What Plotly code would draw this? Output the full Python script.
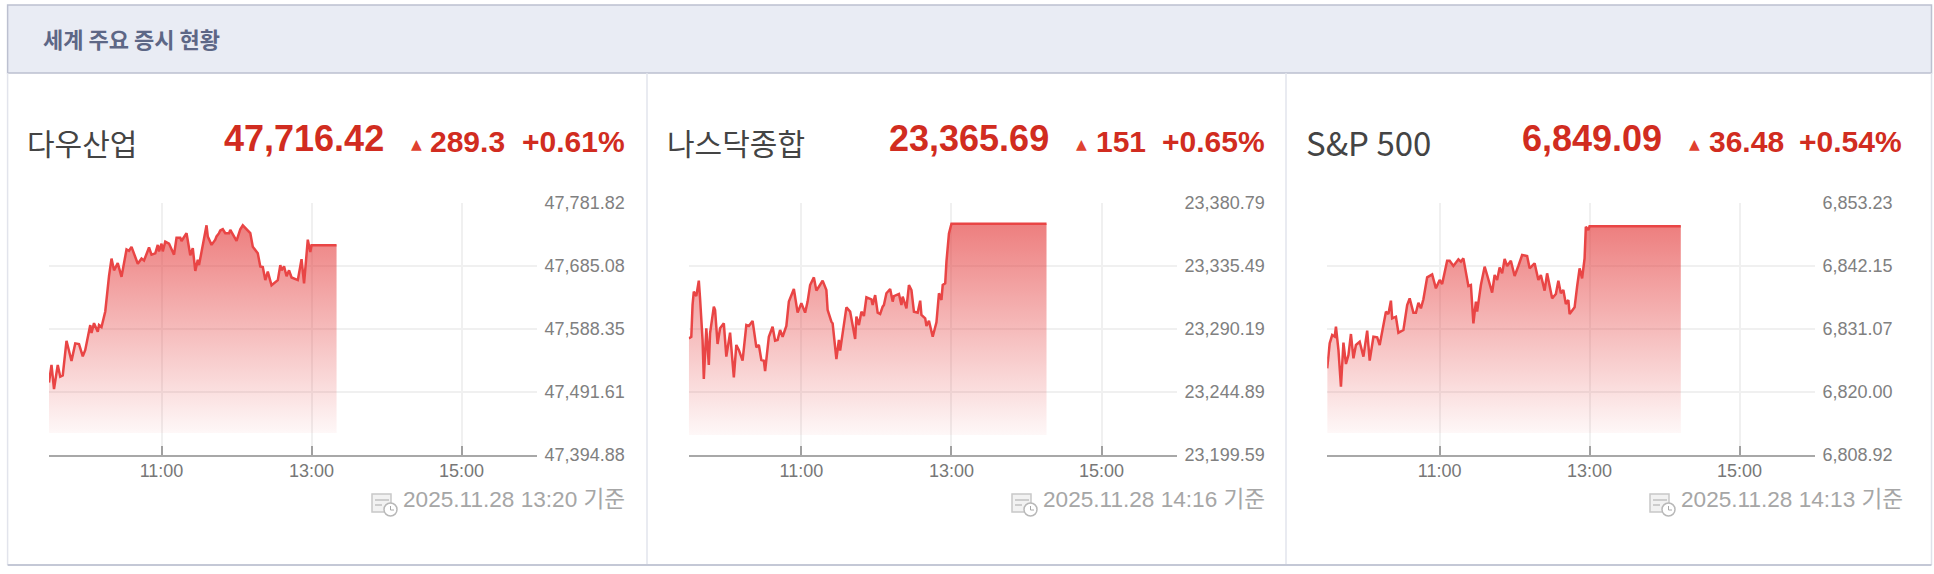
import pandas as pd
import plotly.graph_objects as go

W, H = 1934, 574

# chart values
dow_times = ["09:30","09:32","09:34","09:37","09:39","09:41","09:44","09:48","09:51","09:54","09:57","09:59",
             "10:03","10:04","10:06","10:09","10:10","10:12","10:15","10:17","10:18","10:20","10:22","10:25","10:28",
             "10:32","10:34","10:36","10:39","10:41","10:44","10:46","10:50","10:52","10:55","10:57","10:58",
             "11:00","11:01","11:03","11:06","11:10","11:12","11:15","11:16","11:20","11:23","11:25","11:27","11:29",
             "11:30","11:33","11:36","11:37","11:40","11:43","11:44","11:46","11:47","11:49","11:51","11:54","11:55",
             "12:00","12:03","12:05","12:11","12:13","12:16","12:17","12:19","12:21","12:23","12:25","12:28",
             "12:33","12:35","12:36","12:38","12:40","12:42","12:44","12:49","12:52","12:54","12:57","12:59",
             "13:00","13:20"]
dow_values = [47506,47533,47496,47533,47515,47517,47570,47539,47566,47565,47546,47556,
              47594,47582,47597,47584,47594,47591,47615,47655,47669,47696,47678,47689,47668,
              47710,47708,47714,47699,47688,47696,47693,47713,47702,47704,47717,47707,
              47719,47707,47722,47719,47702,47728,47728,47723,47735,47701,47712,47677,47694,
              47686,47719,47747,47730,47717,47725,47730,47735,47739,47741,47735,47735,47740,
              47723,47741,47747,47735,47714,47707,47704,47684,47683,47663,47676,47655,
              47663,47686,47678,47684,47669,47678,47667,47663,47695,47658,47725,47706,
              47716.42,47716.42]

nasdaq_times = ["09:30","09:32","09:33","09:34","09:36","09:38","09:39","09:41","09:42","09:44","09:46","09:47",
                "09:50","09:51","09:53","09:55","09:58","10:00","10:03","10:06","10:08","10:10","10:13","10:16",
                "10:18","10:21","10:23","10:24","10:26","10:28","10:30","10:31","10:34","10:37","10:39","10:41",
                "10:43","10:45","10:48","10:50","10:54","10:57","11:00","11:03","11:05","11:07","11:10","11:12",
                "11:14","11:17","11:20","11:21","11:24","11:25","11:28","11:30","11:31","11:34","11:36","11:39",
                "11:43","11:44","11:46","11:48","11:50","11:52","11:56","11:57","11:59","12:01","12:03","12:05",
                "12:06","12:08","12:11","12:13","12:14","12:18","12:20","12:21","12:24","12:26","12:28","12:30",
                "12:33","12:35","12:36","12:39","12:40","12:42","12:45","12:48","12:50","12:52","12:53","12:55",
                "12:56","12:58","13:00","14:16"]
nasdaq_values = [23283.3,23284.5,23307.3,23316.9,23313.7,23324.8,23312.1,23282.2,23254.2,23290.5,23264.2,23286.9,
                 23306.1,23303.7,23279.3,23290.5,23294.1,23270.2,23287.4,23255.3,23278.6,23275.0,23267.3,23292.9,
                 23292.2,23295.8,23283.3,23276.9,23278.6,23267.8,23267.3,23259.9,23284.5,23291.7,23281.7,23282.2,
                 23289.3,23284.5,23292.2,23309.7,23318.8,23301.8,23308.5,23301.8,23309.7,23321.6,23327.1,23317.6,
                 23320.4,23324.8,23318.0,23303.7,23295.3,23294.1,23268.5,23282.2,23274.5,23294.1,23305.6,23302.5,
                 23282.9,23298.9,23292.9,23302.5,23299.4,23312.8,23311.3,23307.3,23314.4,23301.8,23300.8,23306.1,
                 23307.3,23315.7,23318.8,23309.7,23313.7,23315.2,23307.3,23313.3,23304.9,23321.6,23318.0,23302.5,
                 23301.8,23310.4,23300.1,23297.7,23292.2,23296.0,23284.5,23294.8,23315.7,23310.9,23321.6,23322.8,
                 23338.4,23358.7,23365.69,23365.69]

sp_times = ["09:30","09:32","09:34","09:36","09:37","09:39","09:41","09:43","09:45","09:47","09:49","09:51",
            "09:53","09:56","09:59","10:02","10:04","10:07","10:10","10:12","10:17","10:19","10:21","10:22",
            "10:25","10:27","10:31","10:34","10:36","10:39","10:41","10:43","10:45","10:47","10:50","10:54",
            "10:57","11:00","11:02","11:06","11:08","11:11","11:15","11:17","11:19","11:23","11:25","11:27",
            "11:29","11:30","11:33","11:36","11:38","11:42","11:44","11:46","11:48","11:50","11:52","11:54",
            "11:57","12:00","12:03","12:06","12:10","12:12","12:16","12:19","12:21","12:24","12:26","12:30",
            "12:33","12:35","12:37","12:39","12:41","12:43","12:44","12:48","12:50","12:52","12:54","12:56",
            "12:57","12:59","13:00","14:13"]
sp_values = [6824.13,6828.52,6829.98,6829.69,6831.45,6827.35,6820.91,6828.64,6824.89,6826.47,6830.16,6825.89,
             6828.23,6828.81,6826.18,6830.74,6825.48,6829.69,6829.57,6828.23,6834.08,6833.67,6836.01,6832.91,
             6833.20,6830.39,6830.86,6835.25,6836.42,6833.90,6833.90,6835.66,6834.67,6836.25,6840.11,6840.63,
             6838.18,6839.64,6838.94,6843.03,6843.03,6842.10,6843.27,6842.86,6843.44,6838.59,6838.76,6832.03,
             6835.84,6834.08,6838.76,6841.98,6840.52,6837.42,6840.52,6839.64,6841.86,6840.81,6843.33,6842.10,
             6843.03,6840.34,6842.10,6844.03,6843.85,6841.69,6842.57,6839.64,6840.52,6837.77,6840.81,6836.42,
             6837.18,6839.52,6837.30,6837.88,6835.43,6836.13,6833.67,6834.84,6838.47,6841.69,6839.93,6843.44,
             6849.00,6848.42,6849.09,6849.09]

dow_ticks = [47394.88,47491.61,47588.35,47685.08,47781.82]
nasdaq_ticks = [23199.59,23244.89,23290.19,23335.49,23380.79]
sp_ticks = [6808.92,6820.00,6831.07,6842.15,6853.23]
fill_floors = [47428.6,23214.0,6812.8]

names = ["다우산업","나스닥종합","S&P 500"]
prices = ["47,716.42","23,365.69","6,849.09"]
changes = ["289.3","151","36.48"]
percents = ["+0.61%","+0.65%","+0.54%"]
stamps = ["2025.11.28 13:20 기준","2025.11.28 14:16 기준","2025.11.28 14:13 기준"]
title = "세계 주요 증시 현황"

# pixel layout of the three panels
plot_left = [49,688.8,1327.2]
plot_right = [536.6,1176.6,1814.5]
name_x = [26,666,1305]
name_size = [30,30,33]
price_right = [385,1050,1662.5]
tri_x = [416,1081,1694]
change_left = [429,1095,1708]
pct_right = [625.5,1265.5,1902.5]
stamp_left = [402,1042,1679.5]
icon_left = [372,1012,1650]
plot_top, plot_bottom = 202.6,455

RED = "#d12c20"
LINE = "#e94545"
GRID = "#f0f0f0"
SANS = "Liberation Sans, Noto Sans CJK KR"
KR = "Noto Sans CJK KR, Liberation Sans"


def fx(x):
    return x/W


def fy(y):
    return 1-y/H


def stamp_time(times):
    return pd.to_datetime(["2025-11-28 "+t for t in times])


def label(x, y, text, size, color, anchor="left", family=SANS):
    return dict(xref="paper", yref="paper", x=fx(x), y=fy(y), text=text, showarrow=False,
                xanchor=anchor, yanchor="middle", borderpad=0,
                font=dict(family=family, size=size, color=color))


def box(x0, y0, x1, y1, **kw):
    return dict(type="rect", xref="paper", yref="paper", x0=fx(x0), x1=fx(x1), y0=fy(y0), y1=fy(y1), **kw)


def rule(x0, y0, x1, y1, color, width=1.5):
    return dict(type="line", xref="paper", yref="paper", x0=fx(x0), x1=fx(x1), y0=fy(y0), y1=fy(y1),
                line=dict(color=color, width=width))


fig = go.Figure()
series = [(dow_times,dow_values,dow_ticks),(nasdaq_times,nasdaq_values,nasdaq_ticks),(sp_times,sp_values,sp_ticks)]
layout = {}
shapes = []
notes = []

for i, (times, values, ticks) in enumerate(series):
    n = "" if i == 0 else str(i+1)
    xs = stamp_time(times)
    # invisible floor so the gradient stops above the axis, like the original
    fig.add_trace(go.Scatter(x=[xs[0],xs[-1]], y=[fill_floors[i]]*2, mode="lines", line=dict(width=0),
                             xaxis="x"+n, yaxis="y"+n, showlegend=False, hoverinfo="skip"))
    fig.add_trace(go.Scatter(x=xs, y=values, mode="lines", line=dict(color=LINE, width=2.5),
                             fill="tonexty", xaxis="x"+n, yaxis="y"+n, showlegend=False,
                             fillgradient=dict(type="vertical", start=fill_floors[i], stop=max(values),
                                               colorscale=[[0,"rgba(228,60,60,0.04)"],[1,"rgba(228,60,60,0.66)"]])))

    layout["xaxis"+n] = dict(domain=[fx(plot_left[i]),fx(plot_right[i])], anchor="y"+n, type="date",
                             range=["2025-11-28 09:30","2025-11-28 16:00"], automargin=False,
                             tick0="2025-11-28 11:00", dtick=7200000, tickformat="%H:%M",
                             showgrid=True, gridcolor=GRID, gridwidth=1.5,
                             showline=True, linecolor="#a8a8a8", linewidth=2,
                             ticks="inside", ticklen=9, tickcolor="#a0a0a0", tickwidth=1.5,
                             ticklabelstandoff=-2,
                             tickfont=dict(family=SANS, size=18, color="#777777"))
    layout["yaxis"+n] = dict(domain=[fy(plot_bottom),fy(plot_top)], anchor="x"+n, side="right",
                             range=[ticks[0],ticks[-1]], tickvals=ticks, automargin=False,
                             ticktext=[f"{t:,.2f}" for t in ticks],
                             showgrid=True, gridcolor=GRID, gridwidth=2, zeroline=False,
                             ticks="", ticklabelstandoff=7,
                             tickfont=dict(family=SANS, size=18, color="#808080"))

    notes += [
        label(name_x[i], 142, names[i], name_size[i], "#444444", family=KR),
        label(price_right[i], 138, "<b>"+prices[i]+"</b>", 36, RED, "right"),
        label(tri_x[i], 144, "▲", 14, "#e0412f", "center", family="DejaVu Sans"),
        label(change_left[i], 142, "<b>"+changes[i]+"</b>", 30, RED),
        label(pct_right[i], 142, "<b>"+percents[i]+"</b>", 30, RED, "right"),
        label(stamp_left[i], 500, stamps[i], 22.6, "#a6a6a6"),
    ]

    # little calendar and clock icon in front of the time stamp
    ix = icon_left[i]
    shapes += [
        box(ix, 494, ix+19, 512, line=dict(color="#c8c8c8", width=1.5), fillcolor="#f2f2f2"),
        rule(ix+3, 500, ix+17, 500, "#c0c0c0"),
        rule(ix+3, 505, ix+10, 505, "#c0c0c0"),
        dict(type="circle", xref="paper", yref="paper", x0=fx(ix+12), x1=fx(ix+25), y0=fy(516), y1=fy(503),
             line=dict(color="#b8b8b8", width=1.5), fillcolor="#ffffff"),
        rule(ix+18.5, 506, ix+18.5, 510, "#a8a8a8", 1),
        rule(ix+18.5, 510, ix+22, 510, "#a8a8a8", 1),
    ]

# header band and panel borders
shapes += [
    box(7.6, 5, 1931.5, 73, line=dict(color="#bcc0d0", width=1.5), fillcolor="#e9ecf4", layer="below"),
    rule(7.6, 73, 7.6, 565, "#e2e4ec"),
    rule(647, 73, 647, 565, "#e2e4ec"),
    rule(1286, 73, 1286, 565, "#e2e4ec"),
    rule(1931.5, 73, 1931.5, 565, "#dfe1ea"),
    rule(7.6, 565, 1931.5, 565, "#c4c8d6", 2),
]
notes.append(label(42, 38, "<b>"+title+"</b>", 22, "#5d6786", family=KR))

fig.update_layout(width=W, height=H, margin=dict(l=0,r=0,t=0,b=0), paper_bgcolor="white", plot_bgcolor="white",
                  shapes=shapes, annotations=notes, showlegend=False, **layout)

fig.write_html("out.html", config={"displayModeBar": False}, post_script="document.body.style.margin='0';")
